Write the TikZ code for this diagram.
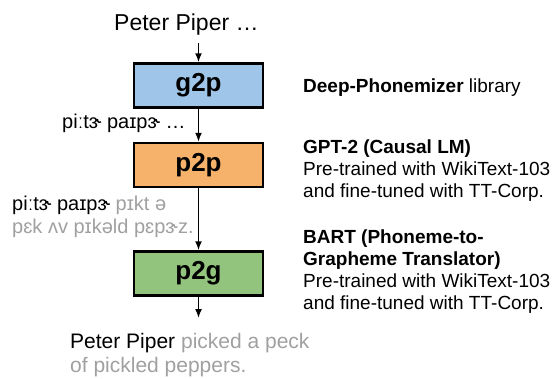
\documentclass[tikz,border=0pt]{standalone}
\usepackage{fontspec}
\setmainfont{Liberation Sans}
\usetikzlibrary{arrows.meta}
\definecolor{boxblue}{HTML}{9FC5E8}
\definecolor{boxorange}{HTML}{F6B26B}
\definecolor{boxgreen}{HTML}{93C47D}
\definecolor{graytext}{HTML}{A0A0A0}
\tikzset{
  modelbox/.style={draw=black, line width=2.5pt, minimum width=129pt, minimum height=44pt, inner sep=0pt, font=\fontsize{26}{30}\selectfont\bfseries},
  txt/.style={anchor=base west, inner sep=0pt, font=\fontsize{19}{22}\selectfont},
  toptxt/.style={txt, font=\fontsize{23}{26}\selectfont},
  ipatxt/.style={txt, font=\fontsize{20}{23}\selectfont},
  outtxt/.style={txt, font=\fontsize{21}{24}\selectfont},
  flow/.style={-{Latex[length=9pt,width=7pt]}, line width=1.5pt},
}
\begin{document}
\begin{tikzpicture}[x=1pt,y=-1pt]
\useasboundingbox (0,0) rectangle (552,378);
% boxes
\node[modelbox, fill=boxblue] (g2p) at (198.5,85.5) {g2p};
\node[modelbox, fill=boxorange] (p2p) at (198.5,165) {p2p};
\node[modelbox, fill=boxgreen] (p2g) at (198.5,273.5) {p2g};
% input / output
\node[toptxt] (input) at (114,30) {Peter Piper …};
\coordinate (inend) at (198.5,43);
\coordinate (outend) at (198.5,318);
\draw[flow] (inend) -- (g2p.north);
\draw[flow] (g2p.south) -- (p2p.north);
\draw[flow] (p2p.south) -- (p2g.north);
\draw[flow] (p2g.south) -- (outend);
% intermediate texts
\node[ipatxt] (ipa1) at (62,128) {piːtɝ paɪpɝ …};
\node[ipatxt] (ipa2a) at (12,210) {piːtɝ paɪpɝ \textcolor{graytext}{pɪkt ə}};
\node[ipatxt] (ipa2b) at (12,233) {\textcolor{graytext}{pɛk ʌv pɪkəld pɛpɝz.}};
\node[outtxt] (out1) at (70,348) {Peter Piper \textcolor{graytext}{picked a peck}};
\node[outtxt] (out2) at (70,372) {\textcolor{graytext}{of pickled peppers.}};
% descriptions
\node[txt] (d1) at (303,92) {\textbf{Deep-Phonemizer} library};
\node[txt] (d2a) at (303,153) {\textbf{GPT-2 (Causal LM)}};
\node[txt] (d2b) at (303,175) {Pre-trained with WikiText-103};
\node[txt] (d2c) at (303,197) {and fine-tuned with TT-Corp.};
\node[txt] (d3a) at (303,243) {\textbf{BART (Phoneme-to-}};
\node[txt] (d3b) at (303,265) {\textbf{Grapheme Translator)}};
\node[txt] (d3c) at (303,287) {Pre-trained with WikiText-103};
\node[txt] (d3d) at (303,309) {and fine-tuned with TT-Corp.};
\end{tikzpicture}
\end{document}
